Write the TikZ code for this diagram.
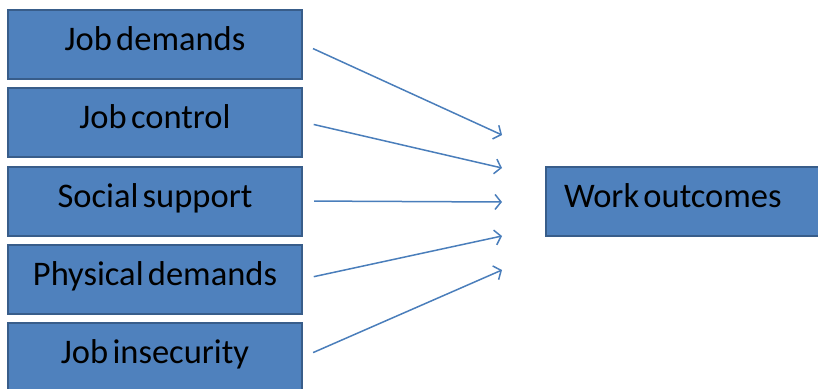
\documentclass[tikz,border=0pt]{standalone}
\usepackage{fontspec}
\setmainfont{Carlito}[WordSpace=0.55]
\usetikzlibrary{arrows.meta}
\definecolor{boxfill}{HTML}{4F81BD}
\definecolor{boxline}{HTML}{385D8A}
\definecolor{arrowline}{HTML}{4A7EBB}
\begin{document}
\begin{tikzpicture}[x=1pt, y=-1pt,
    factor/.style={draw=boxline, fill=boxfill, line width=2pt, minimum width=294pt,
      minimum height=69pt, inner sep=0pt, text height=26pt, text depth=14pt,
      font=\fontsize{34.5}{40}\selectfont},
    arr/.style={arrowline, line width=1.5pt, shorten <=11pt,
      -{Straight Barb[length=6pt, width=15pt]}}]
  \useasboundingbox (0, 0) rectangle (818, 388);
  \clip (0, 0) rectangle (818, 388);
  % boxes
  \node[factor] (jd) at (155, 44) {Job demands};
  \node[factor] (jc) at (155, 122) {Job control};
  \node[factor] (ss) at (155, 201) {Social support};
  \node[factor] (pd) at (155, 279) {Physical demands};
  \node[factor] (ji) at (155, 357) {Job insecurity};
  \node[factor, anchor=west, minimum width=0pt, inner xsep=18pt] (wo) at (545, 201) {Work outcomes\hspace*{40pt}};
  % arrow ends
  \coordinate (t1) at (502, 135);
  \coordinate (t2) at (502, 168);
  \coordinate (t3) at (502, 202);
  \coordinate (t4) at (502, 236);
  \coordinate (t5) at (502, 270);
  % arrows
  \draw[arr] (jd.east) -- (t1);
  \draw[arr] (jc.east) -- (t2);
  \draw[arr] (ss.east) -- (t3);
  \draw[arr] (pd.east) -- (t4);
  \draw[arr] (ji.east) -- (t5);
\end{tikzpicture}
\end{document}
